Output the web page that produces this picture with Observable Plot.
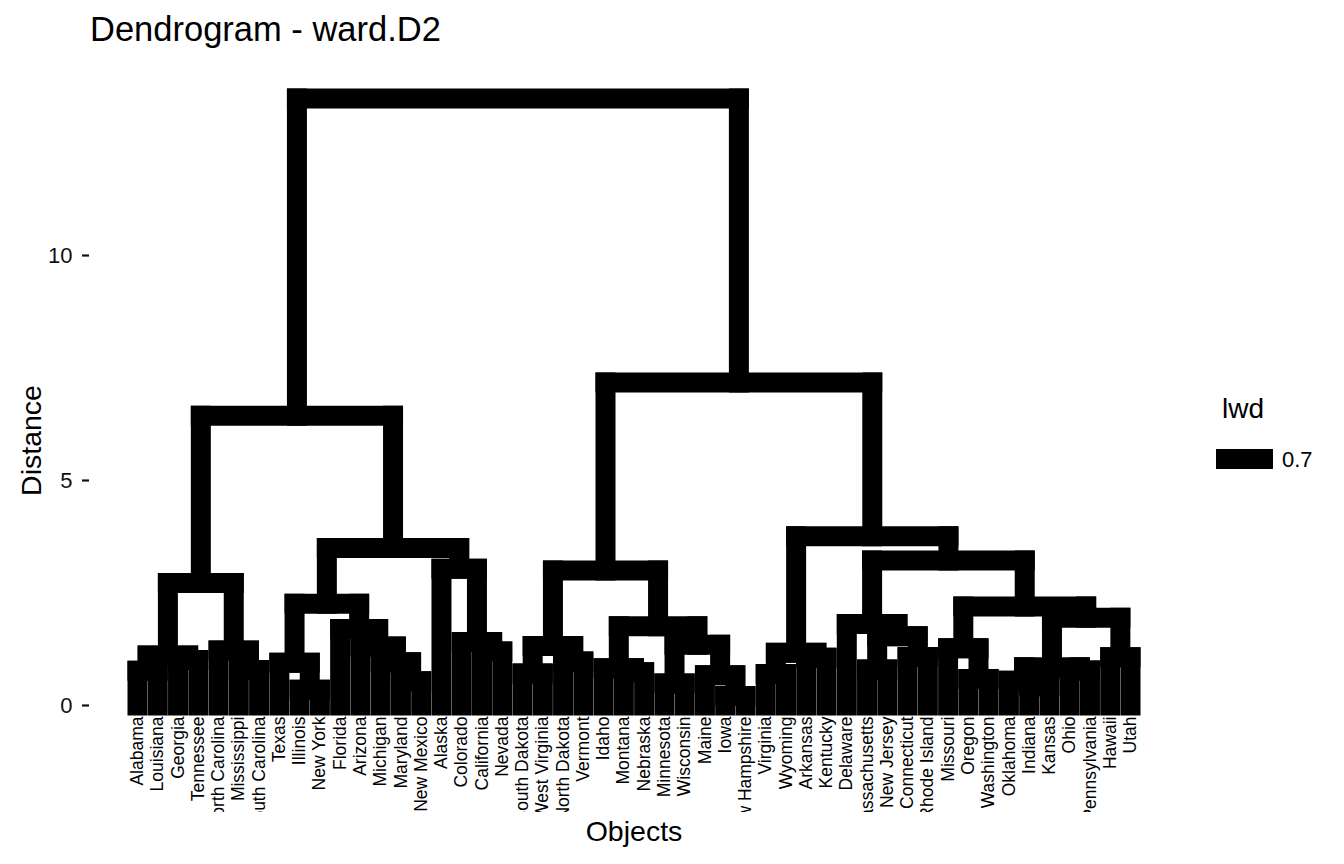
<!DOCTYPE html>
<html>
<head>
<meta charset="utf-8">
<script src="https://cdn.jsdelivr.net/npm/d3@7"></script>
<script src="https://cdn.jsdelivr.net/npm/@observablehq/plot@0.6"></script>
<style>
  body { margin: 0; background: #fff; font-family: "Liberation Sans", Arial, Helvetica, sans-serif; }
  #wrap { position: relative; width: 1344px; height: 864px; overflow: hidden; background: #fff; }
  #title { position: absolute; left: 90px; top: 12px; font-size: 34.5px; line-height: 1; color: #000; white-space: nowrap; }
  #chart { position: absolute; left: 0; top: 60px; }
  .leg { position: absolute; line-height: 1; color: #000; white-space: nowrap; }
  #legTitle { left: 1222px; top: 395px; font-size: 28px; }
  #legKey { left: 1216px; top: 449px; width: 57px; height: 20px; background: #000; }
  #legLabel { left: 1282px; top: 449px; font-size: 22px; }
</style>
</head>
<body>
<div id="wrap">
  <div id="title">Dendrogram - ward.D2</div>
  <div id="chart"></div>
  <div class="leg" id="legTitle">lwd</div>
  <div class="leg" id="legKey"></div>
  <div class="leg" id="legLabel">0.7</div>
</div>
<script>
// Leaves in dendrogram order (left to right)
const leaves = [
  "Alabama", "Louisiana", "Georgia", "Tennessee", "North Carolina", "Mississippi",
  "South Carolina", "Texas", "Illinois", "New York", "Florida", "Arizona", "Michigan",
  "Maryland", "New Mexico", "Alaska", "Colorado", "California", "Nevada", "South Dakota",
  "West Virginia", "North Dakota", "Vermont", "Idaho", "Montana", "Nebraska", "Minnesota",
  "Wisconsin", "Maine", "Iowa", "New Hampshire", "Virginia", "Wyoming", "Arkansas",
  "Kentucky", "Delaware", "Massachusetts", "New Jersey", "Connecticut", "Rhode Island",
  "Missouri", "Oregon", "Washington", "Oklahoma", "Indiana", "Kansas", "Ohio",
  "Pennsylvania", "Hawaii", "Utah"
];

// Agglomeration steps, hclust style: negative = leaf position, positive = earlier step
const mergePairs = [
  [-30, -31], [-9, -10], [-45, -46], [-27, -28], [-14, -15], [-44, 3], [-42, -43],
  [-29, 1], [-32, -33], [-20, -21], [-25, -26], [-1, -2], [-47, -48], [-6, -7],
  [-37, -38], [-24, 11], [6, 13], [-8, 2], [-13, 5], [-22, -23], [-3, -4],
  [-34, -35], [-49, -50], [-39, -40], [12, 21], [9, 22], [-18, -19], [-5, 14],
  [-41, 7], [-12, 19], [10, 20], [4, 8], [-17, 27], [15, 24], [-11, 30],
  [16, 32], [-36, 34], [17, 23], [29, 38], [18, 35], [25, 28], [31, 36],
  [-16, 33], [37, 39], [40, 43], [26, 44], [41, 45], [42, 46], [47, 48]
];

// Merge heights (ward.D2 distance) for each step above
const mergeHeights = [
  0.21, 0.35, 0.43, 0.49, 0.54, 0.55, 0.59,
  0.67, 0.70, 0.71, 0.74, 0.77, 0.78, 0.79,
  0.80, 0.83, 0.85, 0.95, 0.96, 0.98, 1.01,
  1.06, 1.07, 1.08, 1.11, 1.17, 1.20, 1.22,
  1.27, 1.31, 1.32, 1.35, 1.41, 1.54, 1.70,
  1.76, 1.81, 1.95, 2.20, 2.26, 2.72, 3.00,
  3.04, 3.22, 3.50, 3.76, 6.44, 7.18, 13.49
];

const yTicks = [0, 5, 10];

// Elbow segments: child up to merge height, across, down to the other child
const nodeX = [];
const place = id => id < 0 ? {x: -id, h: 0} : {x: nodeX[id - 1], h: mergeHeights[id - 1]};
const segments = [];
mergePairs.forEach(([a, b], i) => {
  const h = mergeHeights[i], A = place(a), B = place(b);
  nodeX[i] = (A.x + B.x) / 2;
  segments.push(
    {x1: A.x, y1: A.h, x2: A.x, y2: h},
    {x1: A.x, y1: h, x2: B.x, y2: h},
    {x1: B.x, y1: h, x2: B.x, y2: B.h}
  );
});

const font = '"Liberation Sans", Arial, Helvetica, sans-serif';
const W = 1344, H = 804, mL = 89, mR = 166, mT = 8, mB = 52;

const chart = Plot.plot({
  width: W,
  height: H,
  marginLeft: mL,
  marginRight: mR,
  marginTop: mT,
  marginBottom: mB,
  style: {fontFamily: font, background: "transparent", color: "#000"},
  x: {domain: [-1.3686, 52.3686], axis: null},
  y: {domain: [-2.378, 14.156]},
  marks: [
    Plot.link(segments, {
      x1: "x1", y1: "y1", x2: "x2", y2: "y2",
      stroke: "#000", strokeWidth: 20, strokeLinecap: "square"
    }),
    Plot.text(leaves, {
      x: (d, i) => i + 1, y: () => 0, text: d => d,
      rotate: -90, textAnchor: "end", dy: 11,
      fontSize: 17.5, fill: "#000"
    }),
    Plot.axisY({
      ticks: yTicks, tickSize: 7, tickPadding: 10, fontSize: 22,
      label: null, stroke: "#111", strokeWidth: 2.2, fill: "#111"
    }),
    Plot.text(["Distance"], {
      frameAnchor: "left", rotate: -90, dx: -58, textAnchor: "middle",
      lineAnchor: "middle", fontSize: 28.5, fill: "#000"
    }),
    Plot.text(["Objects"], {
      frameAnchor: "bottom", dy: 19.5, textAnchor: "middle",
      lineAnchor: "middle", fontSize: 28.5, fill: "#000"
    })
  ]
});

// Leaf labels live inside the panel: clip them at the panel's edges
const svg = d3.select(chart);
svg.append("defs").append("clipPath").attr("id", "panel-clip")
  .append("rect")
  .attr("x", mL).attr("y", mT)
  .attr("width", W - mL - mR).attr("height", H - mT - mB);
const labelGroup = chart.querySelector('g[aria-label="text"]');
const holder = document.createElementNS("http://www.w3.org/2000/svg", "g");
holder.setAttribute("clip-path", "url(#panel-clip)");
labelGroup.parentNode.insertBefore(holder, labelGroup);
holder.appendChild(labelGroup);

document.getElementById("chart").appendChild(chart);
</script>
</body>
</html>
